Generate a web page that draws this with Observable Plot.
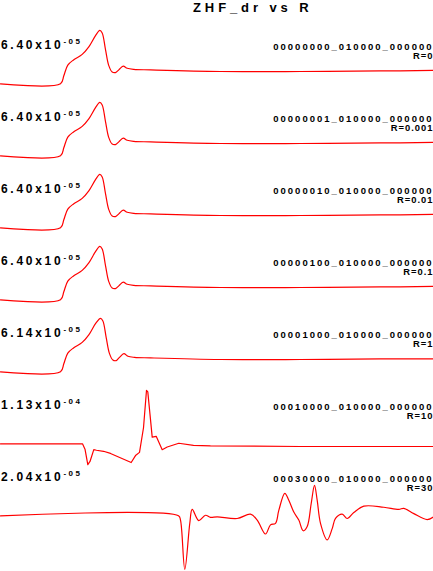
<!DOCTYPE html>
<html>
<head>
<meta charset="utf-8">
<script src="https://cdn.jsdelivr.net/npm/d3@7"></script>
<script src="https://cdn.jsdelivr.net/npm/@observablehq/plot@0.6"></script>
<style>
  body { margin: 0; background: #fff; }
  #wrap { position: relative; width: 433px; height: 571px; overflow: hidden; font-family: "Liberation Sans", Arial, sans-serif; }
  #title { position: absolute; left: 193px; top: -2px; line-height: 20px; font-size: 13px; font-weight: bold; letter-spacing: 3.9px; color: #000; white-space: nowrap; }
  #chart { position: absolute; left: 0; top: 20px; }
  #chart svg { font-family: "Liberation Sans", Arial, sans-serif; }
  #chart g[font-size="12"] text { letter-spacing: 2.7px; }
  #chart g[font-size="8"] text { letter-spacing: 2.4px; }
  #chart g[font-size="9.5"] text { letter-spacing: 2px; }
  #chart g[font-size="9.4"] text { letter-spacing: 1px; }
</style>
</head>
<body>
<div id="wrap">
  <div id="title">ZHF_dr vs R</div>
  <div id="chart"></div>
</div>
<script>
// ---- data ----
const runIds = [
  "00000000_010000_000000",
  "00000001_010000_000000",
  "00000010_010000_000000",
  "00000100_010000_000000",
  "00001000_010000_000000",
  "00010000_010000_000000",
  "00030000_010000_000000"
];
const rValues = [0, 0.001, 0.01, 0.1, 1, 10, 30];
const peakAbs = [6.40e-5, 6.40e-5, 6.40e-5, 6.40e-5, 6.14e-5, 1.13e-4, 2.04e-5];

// normalized traces (value / peak |value|), time in samples
const tLowR = [0, 60, 63.3, 67.3, 73.3, 81.7, 88.3, 95, 99.3, 101.7, 105, 108.3, 111.7, 115, 118.3, 122.7, 126.7, 133.3, 150, 220, 300, 380, 433];
const vLowR = [0, 0, 0.15, 0.35, 0.45, 0.55, 0.69, 0.90, 1.0, 0.95, 0.64, 0.34, 0.22, 0.21, 0.26, 0.33, 0.29, 0.27, 0.26, 0.23, 0.23, 0.24, 0.25];

const tR1 = [0, 60, 63.3, 67.3, 73.3, 81.7, 88.3, 95, 100, 102.4, 105.7, 109, 112.4, 115.7, 119, 123.4, 127.4, 134, 150, 220, 300, 380, 433];
const vR1 = [0, 0, 0.15, 0.35, 0.45, 0.55, 0.69, 0.90, 1.0, 0.95, 0.64, 0.34, 0.22, 0.21, 0.27, 0.34, 0.29, 0.27, 0.26, 0.23, 0.23, 0.24, 0.24];

const tR10 = [0, 82, 84.5, 87.3, 89.5, 93.3, 96, 103, 110, 130.7, 135, 139, 143, 146, 147.3, 149.5, 151.7, 155.7, 161.7, 166.7, 178.3, 193, 210, 300, 433];
const vR10 = [0, 0, -0.1, -0.39, -0.33, -0.11, -0.12, -0.14, -0.18, -0.35, -0.22, -0.16, 0.3, 1.0, 0.97, 0.55, 0.125, 0.14, -0.11, -0.06, 0.01, -0.03, -0.04, -0.05, -0.05];

const tR30 = [0, 178, 180, 184.3, 189.3, 191.7, 198.3, 205, 210, 216.7, 236.7, 250, 256.7, 265, 270, 275, 278.3, 284.3, 288.3, 293.3, 298.3, 302.7, 306.7, 310.7, 314, 316.7, 320, 326.7, 331.7, 335, 341.7, 346.7, 353.3, 363.3, 383.3, 398.3, 403.3, 413.3, 426.7, 433];
const vR30 = [0, 0, -0.08, -1.0, -0.14, 0.12, -0.09, 0.01, -0.03, -0.02, -0.05, 0.03, -0.08, -0.34, -0.17, -0.14, 0.10, 0.42, 0.29, 0.07, -0.08, -0.28, -0.2, 0.23, 0.57, 0.29, -0.14, -0.45, -0.24, -0.05, 0.03, -0.05, 0.06, 0.18, 0.16, 0.12, 0.14, 0.04, -0.07, -0.02];

// ---- layout: panels stacked with a fixed offset in normalized units ----
const unitPx = 53.5;                 // pixels per unit of peak |value|
const panelStep = 72 / unitPx;       // one panel height, in normalized units
const firstZeroPx = 63.3;            // zero line of the first panel, from the SVG top
const svgHeight = 551;
const stack = (i, v) => v - i * panelStep;

// ---- build tables ----
const traceT = [tLowR, tLowR, tLowR, tLowR, tR1, tR10, tR30];
const traceV = [vLowR, vLowR, vLowR, vLowR, vR1, vR10, vR30];
const rows = [];
runIds.forEach((run, i) => {
  traceT[i].forEach((t, j) => rows.push({run, i, t, v: traceV[i][j]}));
});
const panels = runIds.map((run, i) => ({run, i, R: rValues[i], peak: peakAbs[i]}));

function expOf(p) { return Math.floor(Math.log10(p) + 1e-9); }
function mant(p) { const e = expOf(p); return (p / 10 ** e).toFixed(2) + "x10"; }
function expo(p) { const e = expOf(p); return (e < 0 ? "-" : "") + String(Math.abs(e)).padStart(2, "0"); }

const bold = {fontWeight: "bold", fill: "#000"};

const chart = Plot.plot({
  width: 433,
  height: svgHeight,
  margin: 0,
  x: {domain: [0, 433], axis: null},
  y: {domain: [(firstZeroPx - svgHeight) / unitPx, firstZeroPx / unitPx], axis: null},
  marks: [
    Plot.line(rows.filter(d => d.i !== 5), {x: "t", y: d => stack(d.i, d.v), z: "run", stroke: "#ff0000", strokeWidth: 1.2, curve: "catmull-rom"}),
    Plot.line(rows.filter(d => d.i === 5), {x: "t", y: d => stack(d.i, d.v), stroke: "#ff0000", strokeWidth: 1.2, curve: "linear"}),
    Plot.text(panels, {y: d => stack(d.i, 0.655), text: d => mant(d.peak), frameAnchor: "left", textAnchor: "start", lineAnchor: "bottom", dx: 0.5, fontSize: 12, ...bold}),
    Plot.text(panels, {y: d => stack(d.i, 0.75), text: d => expo(d.peak), frameAnchor: "left", textAnchor: "start", lineAnchor: "bottom", dx: 63, fontSize: 8, ...bold}),
    Plot.text(panels, {y: d => stack(d.i, 0.635), text: "run", frameAnchor: "right", textAnchor: "end", lineAnchor: "bottom", dx: 0, fontSize: 9.5, ...bold}),
    Plot.text(panels, {y: d => stack(d.i, 0.458), text: d => "R=" + d.R, frameAnchor: "right", textAnchor: "end", lineAnchor: "bottom", dx: 0, fontSize: 9.4, ...bold})
  ]
});
document.getElementById("chart").appendChild(chart);
</script>
</body>
</html>
